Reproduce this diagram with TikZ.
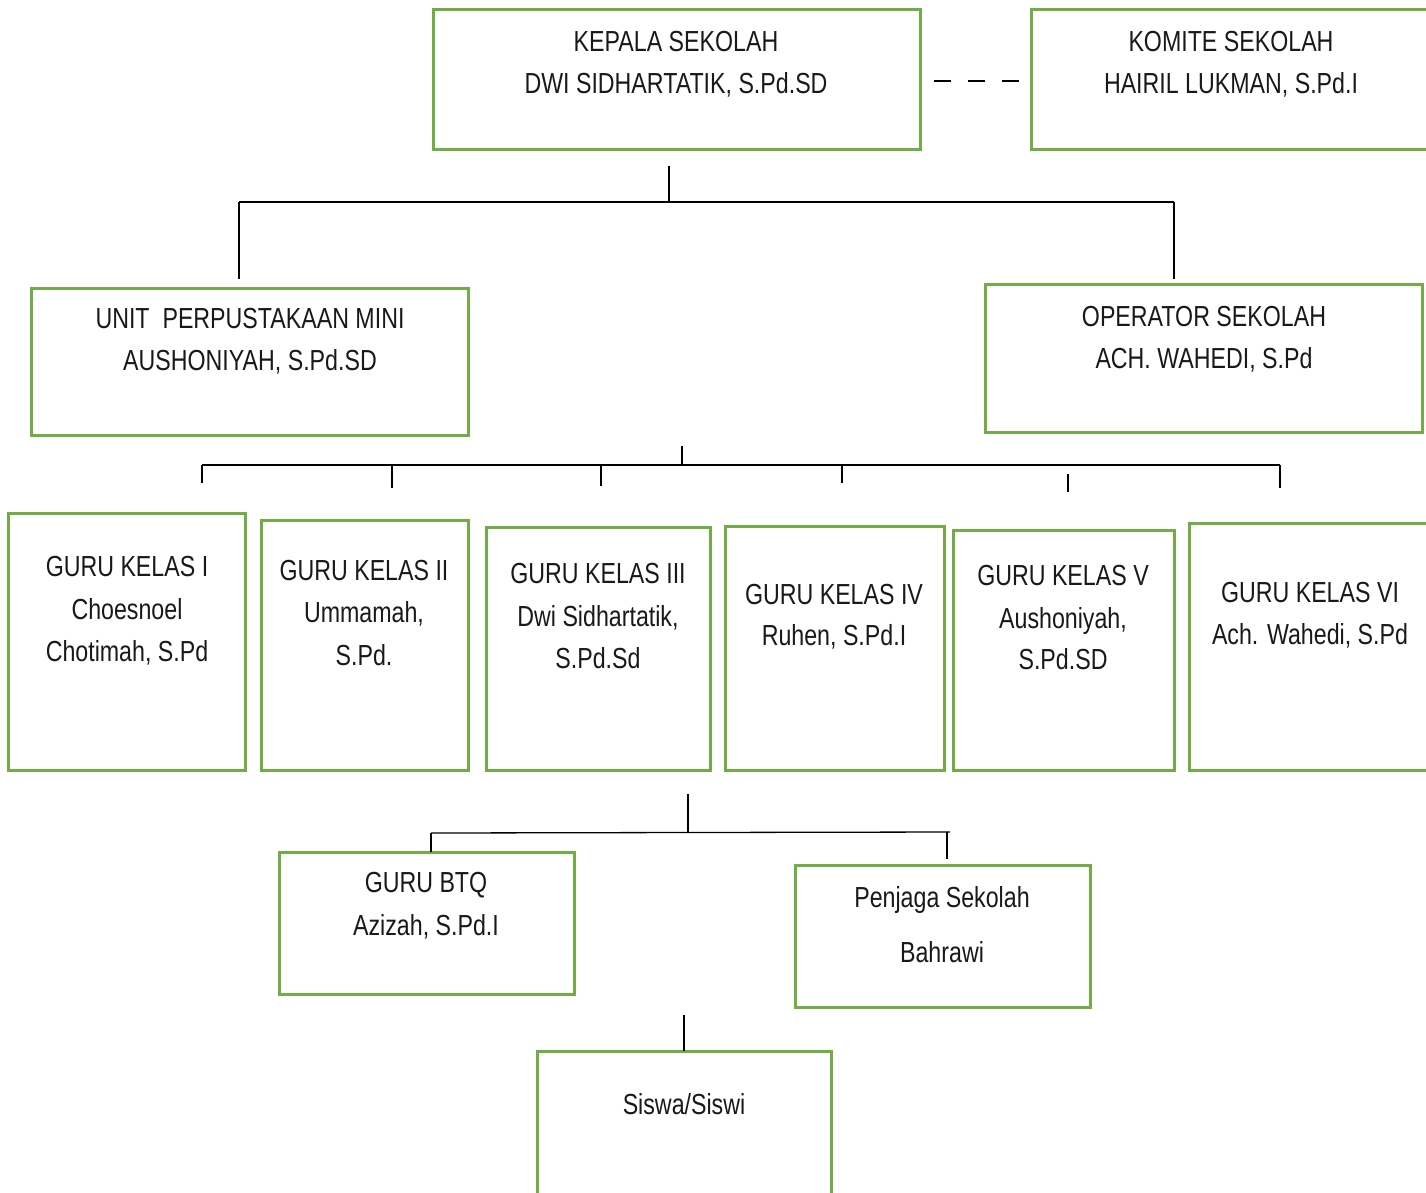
\documentclass[tikz,border=0pt]{standalone}
\usepackage{fontspec}
\setmainfont[FakeStretch=0.8]{Liberation Sans}
\definecolor{boxgreen}{RGB}{112,173,71}
\definecolor{inkgray}{RGB}{25,25,25}
\newcommand\orgbox[5]{\node[gbox, minimum width={#4-#2}, minimum height={#5-#3}] (#1) at ({(#2+#4)/2},{-(#3+#5)/2}) {};}
\newcommand\orgline[4]{\node[txt] (#1) at (#2,-#3) {#4};}
\begin{document}
\begin{tikzpicture}[x=1pt,y=1pt,
  gbox/.style={draw=boxgreen, line width=3pt, rectangle, inner sep=0pt, outer sep=0pt},
  txt/.style={anchor=base, inner sep=0pt, text=inkgray, font=\fontsize{29}{32}\selectfont},
  conn/.style={draw=black, line width=1.3pt},
  dashconn/.style={draw=black, line width=1.3pt, dash pattern=on 17pt off 17pt}]
\useasboundingbox (0,0) rectangle (1426,-1192);
\fill[white] (0,0) rectangle (1426,-1192);

% boxes
\orgbox{kepala}{433}{9}{920}{149}
\orgbox{komite}{1031}{9}{1440}{149}
\orgbox{unit}{31}{288}{468}{435}
\orgbox{operator}{985}{284}{1422}{432}
\orgbox{gk1}{8}{513}{245}{770}
\orgbox{gk2}{261}{520}{468}{770}
\orgbox{gk3}{486}{527}{710}{770}
\orgbox{gk4}{725}{526}{944}{770}
\orgbox{gk5}{953}{530}{1174}{770}
\orgbox{gk6}{1189}{523}{1440}{770}
\orgbox{btq}{279}{852}{574}{994}
\orgbox{penjaga}{795}{865}{1090}{1007}
\orgbox{siswa}{537}{1051}{831}{1210}

% texts
\orgline{kepalaA}{676}{51}{KEPALA SEKOLAH}
\orgline{kepalaB}{676}{93}{DWI SIDHARTATIK, S.Pd.SD}
\orgline{komiteA}{1231}{51}{KOMITE SEKOLAH}
\orgline{komiteB}{1231}{93}{HAIRIL LUKMAN, S.Pd.I}
\orgline{unitA}{250}{328}{UNIT\ \ PERPUSTAKAAN MINI}
\orgline{unitB}{250}{370}{AUSHONIYAH, S.Pd.SD}
\orgline{opA}{1204}{326}{OPERATOR SEKOLAH}
\orgline{opB}{1204}{368}{ACH. WAHEDI, S.Pd}
\orgline{gkaA}{127}{576}{GURU KELAS I}
\orgline{gkaB}{127}{619}{Choesnoel}
\orgline{gkaC}{127}{661}{Chotimah, S.Pd}
\orgline{gkbA}{364}{580}{GURU KELAS II}
\orgline{gkbB}{364}{622}{Ummamah,}
\orgline{gkbC}{364}{665}{S.Pd.}
\orgline{gkcA}{598}{583}{GURU KELAS III}
\orgline{gkcB}{598}{626}{Dwi Sidhartatik,}
\orgline{gkcC}{598}{668}{S.Pd.Sd}
\orgline{gkdA}{834}{604}{GURU KELAS IV}
\orgline{gkdB}{834}{645}{Ruhen, S.Pd.I}
\orgline{gkeA}{1063}{585}{GURU KELAS V}
\orgline{gkeB}{1063}{628}{Aushoniyah,}
\orgline{gkeC}{1063}{669}{S.Pd.SD}
\orgline{gkfA}{1310}{602}{GURU KELAS VI}
\orgline{gkfB}{1310}{644}{Ach. Wahedi, S.Pd}
\orgline{btqA}{426}{892}{GURU BTQ}
\orgline{btqB}{426}{935}{Azizah, S.Pd.I}
\orgline{penA}{942}{907}{Penjaga Sekolah}
\orgline{penB}{942}{962}{Bahrawi}
\orgline{sisA}{684}{1114}{Siswa/Siswi}

% connector coordinates
\coordinate (t0) at (669,-166);
\coordinate (t1) at (669,-202);
\coordinate (tl) at (239,-202);
\coordinate (tr) at (1174,-202);
\coordinate (tlb) at (239,-279);
\coordinate (trb) at (1174,-279);

\coordinate (m0) at (682,-446);
\coordinate (m1) at (682,-465);
\coordinate (ml) at (202,-465);
\coordinate (mr) at (1280,-465);
\coordinate (d1) at (202,-483);
\coordinate (h2) at (392,-465);
\coordinate (d2) at (392,-488);
\coordinate (h3) at (601,-465);
\coordinate (d3) at (601,-486);
\coordinate (h4) at (842,-465);
\coordinate (d4) at (842,-483);
\coordinate (h5) at (1068,-474);
\coordinate (d5) at (1068,-492);
\coordinate (d6) at (1280,-488);

\coordinate (b0) at (688,-794);
\coordinate (b1) at (688,-832);
\coordinate (bl) at (431,-833);
\coordinate (br) at (950,-832);
\coordinate (brd) at (947,-832);
\coordinate (brb) at (947,-859);

\coordinate (s0) at (684,-1015);

\coordinate (dashA) at (934,-81);
\coordinate (dashB) at (1020,-81);

% connectors
\draw[conn] (t0) -- (t1);
\draw[conn] (tl) -- (tr);
\draw[conn] (tl) -- (tlb);
\draw[conn] (tr) -- (trb);

\draw[conn] (m0) -- (m1);
\draw[conn] (ml) -- (mr);
\draw[conn] (ml) -- (d1);
\draw[conn] (h2) -- (d2);
\draw[conn] (h3) -- (d3);
\draw[conn] (h4) -- (d4);
\draw[conn] (h5) -- (d5);
\draw[conn] (mr) -- (d6);

\draw[conn] (b0) -- (b1);
\draw[conn] (bl) -- (br);
\draw[conn] (bl) -- (btq.north -| bl);
\draw[conn] (brd) -- (brb);

\draw[conn] (s0) -- (siswa.north -| s0);

\draw[dashconn] (dashA) -- (dashB);
\end{tikzpicture}
\end{document}
